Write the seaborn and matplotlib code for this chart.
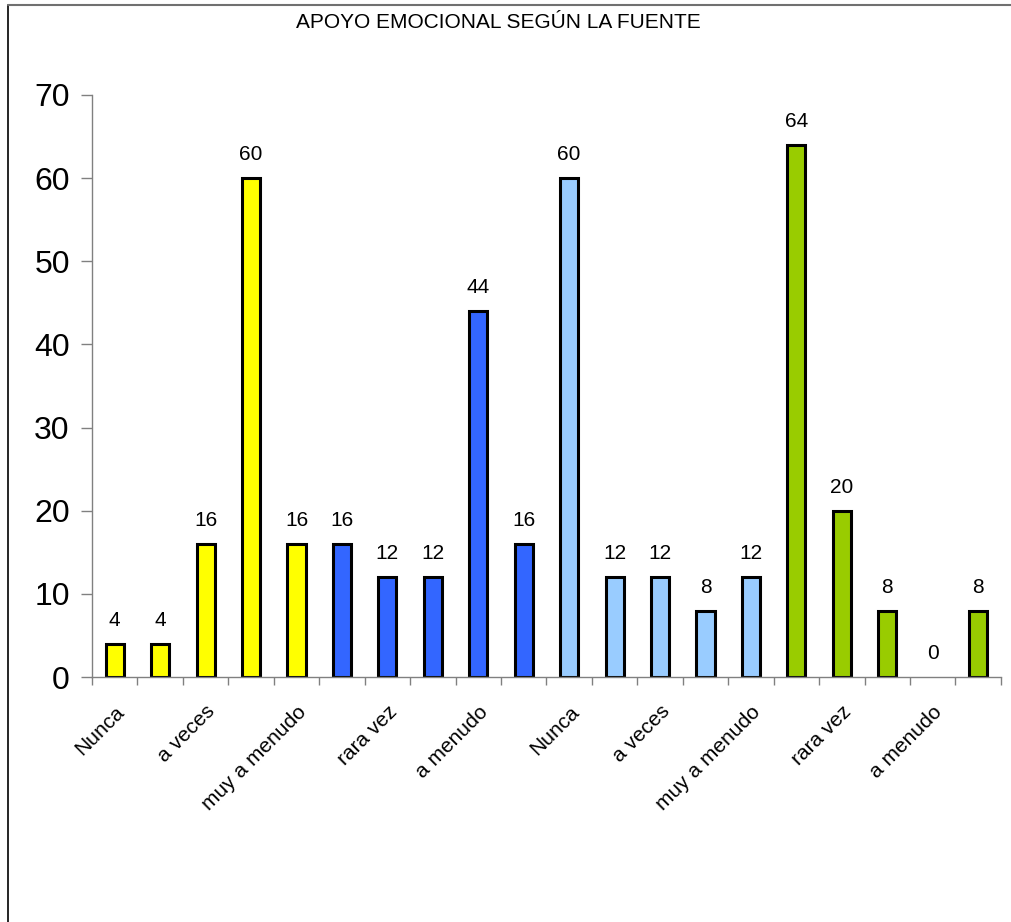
import matplotlib
matplotlib.use('Agg')
import matplotlib.pyplot as plt
import seaborn as sns
import pandas as pd
from matplotlib.lines import Line2D

respuestas = ['Nunca', 'rara vez', 'a veces', 'a menudo', 'muy a menudo']
fuentes = ['F1', 'F2', 'F3', 'F4']
valores = [4, 4, 16, 60, 16,
           16, 12, 12, 44, 16,
           60, 12, 12, 8, 12,
           64, 20, 8, 0, 8]
colores_fuente = ['#FFFF00', '#3366FF', '#99CCFF', '#99CC00']

n = len(valores)
df = pd.DataFrame({
    'pos': list(range(n)),
    'valor': valores,
    'fuente': [fuentes[i // 5] for i in range(n)],
    'respuesta': [respuestas[i % 5] for i in range(n)],
})

sns.set_style('white')
plt.rcParams['font.family'] = ['Liberation Sans', 'DejaVu Sans']
plt.rcParams['text.color'] = 'black'
plt.rcParams['xtick.labelcolor'] = 'black'
plt.rcParams['ytick.labelcolor'] = 'black'

fig = plt.figure(figsize=(10.11, 9.22), dpi=100)
ax = fig.add_axes([0.091, 0.2657, 0.899, 0.6313])

sns.barplot(data=df, x='pos', y='valor', hue='fuente', palette=colores_fuente,
            dodge=False, width=0.4, edgecolor='black', linewidth=2.2,
            saturation=1, legend=False, ax=ax)

for c in ax.containers:
    for p in c.patches:
        if p.get_height() == 0:
            p.set_linewidth(0)
    ax.bar_label(c, fmt='%d', padding=10, fontsize=15, color='black')

ax.set_xlim(-0.5, n - 0.5)
ax.set_ylim(0, 70)
ax.set_yticks(range(0, 71, 10))
ax.tick_params(axis='y', left=True, labelsize=23, length=8, width=1, color='#808080', pad=8)

ax.set_xticks(range(0, n, 2))
ax.set_xticklabels([df['respuesta'][i] for i in range(0, n, 2)],
                   rotation=45, ha='right', rotation_mode='anchor', fontsize=15)
ax.tick_params(axis='x', which='major', bottom=True, length=0, pad=18)
ax.set_xticks([i - 0.5 for i in range(n + 1)], minor=True)
ax.tick_params(axis='x', which='minor', bottom=True, length=6, width=1, color='#808080')

ax.set_xlabel('')
ax.set_ylabel('')
for s in ['top', 'right']:
    ax.spines[s].set_visible(False)
for s in ['left', 'bottom']:
    ax.spines[s].set_color('#808080')
    ax.spines[s].set_linewidth(1)

fig.text(0.493, 0.976, 'APOYO EMOCIONAL SEGÚN LA FUENTE', ha='center', va='center', fontsize=15)

# marco exterior (solo izquierda y arriba visibles)
fig.add_artist(Line2D([0.008, 0.008], [0.0, 0.995], transform=fig.transFigure, color='black', lw=1.2))
fig.add_artist(Line2D([0.008, 1.0], [0.995, 0.995], transform=fig.transFigure, color='#707070', lw=1.5))

fig.savefig('out.png', dpi=100)
